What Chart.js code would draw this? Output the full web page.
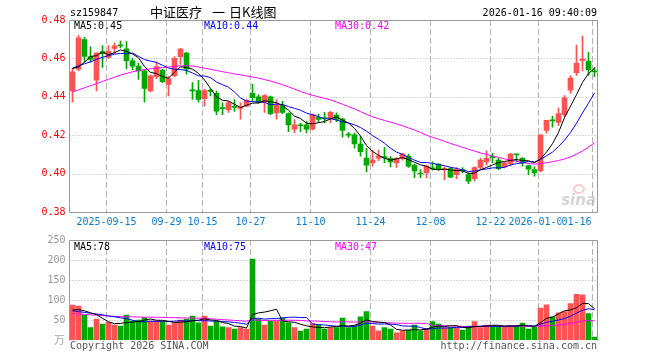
<!DOCTYPE html>
<html>
<head>
<meta charset="utf-8">
<script src="https://cdn.jsdelivr.net/npm/chart.js@4.4.1/dist/chart.umd.min.js"></script>
<style>
  body { margin: 0; background: #fff; }
  #wrap { position: relative; width: 660px; height: 360px; }
  canvas { position: absolute; left: 0; top: 0; }
</style>
</head>
<body>
<div id="wrap">
  <canvas id="kline" width="660" height="360"></canvas>
  <canvas id="vol" width="660" height="360"></canvas>
</div>
<script>
// 159847 daily, 2025-09-05 .. 2026-01-16
const dates = [
  "2025-09-05", "2025-09-08", "2025-09-09", "2025-09-10", "2025-09-11", "2025-09-12",
  "2025-09-15", "2025-09-16", "2025-09-17", "2025-09-18", "2025-09-19",
  "2025-09-22", "2025-09-23", "2025-09-24", "2025-09-25", "2025-09-26",
  "2025-09-29", "2025-09-30", "2025-10-09", "2025-10-10",
  "2025-10-13", "2025-10-14", "2025-10-15", "2025-10-16", "2025-10-17",
  "2025-10-20", "2025-10-21", "2025-10-22", "2025-10-23", "2025-10-24",
  "2025-10-27", "2025-10-28", "2025-10-29", "2025-10-30", "2025-10-31",
  "2025-11-03", "2025-11-04", "2025-11-05", "2025-11-06", "2025-11-07",
  "2025-11-10", "2025-11-11", "2025-11-12", "2025-11-13", "2025-11-14",
  "2025-11-17", "2025-11-18", "2025-11-19", "2025-11-20", "2025-11-21",
  "2025-11-24", "2025-11-25", "2025-11-26", "2025-11-27", "2025-11-28",
  "2025-12-01", "2025-12-02", "2025-12-03", "2025-12-04", "2025-12-05",
  "2025-12-08", "2025-12-09", "2025-12-10", "2025-12-11", "2025-12-12",
  "2025-12-15", "2025-12-16", "2025-12-17", "2025-12-18", "2025-12-19",
  "2025-12-22", "2025-12-23", "2025-12-24", "2025-12-25", "2025-12-26",
  "2025-12-29", "2025-12-30", "2025-12-31",
  "2026-01-05", "2026-01-06", "2026-01-07", "2026-01-08", "2026-01-09",
  "2026-01-12", "2026-01-13", "2026-01-14", "2026-01-15", "2026-01-16"
];

const open = [
  0.4430, 0.4544, 0.4698, 0.4610, 0.4486, 0.4635, 0.4605, 0.4652, 0.4670, 0.4650,
  0.4587, 0.4560, 0.4535, 0.4430, 0.4505, 0.4539, 0.4465, 0.4510, 0.4609, 0.4628,
  0.4436, 0.4433, 0.4390, 0.4435, 0.4418, 0.4342, 0.4333, 0.4350, 0.4340, 0.4351,
  0.4418, 0.4400, 0.4372, 0.4400, 0.4316, 0.4354, 0.4312, 0.4232, 0.4253, 0.4254,
  0.4232, 0.4293, 0.4290, 0.4289, 0.4305, 0.4284, 0.4204, 0.4202, 0.4154, 0.4081,
  0.4056, 0.4081, 0.4088, 0.4079, 0.4056, 0.4079, 0.4091, 0.4044, 0.4002, 0.4004,
  0.4028, 0.4049, 0.4021, 0.4026, 0.3995, 0.4021, 0.3995, 0.3974, 0.4032, 0.4061,
  0.4086, 0.4070, 0.4035, 0.4053, 0.4100, 0.4079, 0.4042, 0.4021, 0.4014, 0.4225,
  0.4279, 0.4267, 0.4307, 0.4435, 0.4526, 0.4588, 0.4586, 0.4535
];
const high = [
  0.4550, 0.4720, 0.4710, 0.4660, 0.4630, 0.4667, 0.4667, 0.4680, 0.4690, 0.4688,
  0.4600, 0.4575, 0.4540, 0.4515, 0.4582, 0.4545, 0.4505, 0.4610, 0.4653, 0.4632,
  0.4474, 0.4486, 0.4439, 0.4442, 0.4430, 0.4368, 0.4377, 0.4386, 0.4368, 0.4386,
  0.4465, 0.4412, 0.4412, 0.4404, 0.4386, 0.4377, 0.4316, 0.4281, 0.4263, 0.4272,
  0.4310, 0.4310, 0.4319, 0.4324, 0.4316, 0.4289, 0.4215, 0.4211, 0.4193, 0.4132,
  0.4123, 0.4123, 0.4137, 0.4088, 0.4084, 0.4105, 0.4100, 0.4049, 0.4021, 0.4044,
  0.4061, 0.4051, 0.4035, 0.4032, 0.4032, 0.4032, 0.4004, 0.4035, 0.4079, 0.4118,
  0.4105, 0.4079, 0.4061, 0.4105, 0.4102, 0.4084, 0.4042, 0.4035, 0.4202, 0.4277,
  0.4298, 0.4342, 0.4407, 0.4509, 0.4670, 0.4716, 0.4632, 0.4553
];
const low = [
  0.4372, 0.4535, 0.4580, 0.4580, 0.4430, 0.4553, 0.4600, 0.4625, 0.4655, 0.4545,
  0.4540, 0.4490, 0.4372, 0.4425, 0.4495, 0.4474, 0.4404, 0.4505, 0.4570, 0.4518,
  0.4386, 0.4372, 0.4351, 0.4404, 0.4307, 0.4307, 0.4319, 0.4324, 0.4284, 0.4347,
  0.4377, 0.4365, 0.4319, 0.4307, 0.4284, 0.4312, 0.4219, 0.4212, 0.4219, 0.4212,
  0.4228, 0.4265, 0.4265, 0.4265, 0.4270, 0.4190, 0.4188, 0.4132, 0.4091, 0.4009,
  0.4039, 0.4067, 0.4056, 0.4035, 0.4032, 0.4070, 0.4032, 0.3979, 0.3979, 0.3979,
  0.4018, 0.4018, 0.3968, 0.3979, 0.3974, 0.4004, 0.3947, 0.3961, 0.4026, 0.4044,
  0.4056, 0.4021, 0.4030, 0.4040, 0.4061, 0.4040, 0.3996, 0.3986, 0.4009, 0.4211,
  0.4242, 0.4249, 0.4295, 0.4418, 0.4512, 0.4535, 0.4512, 0.4505
];
const close = [
  0.4530, 0.4707, 0.4610, 0.4595, 0.4628, 0.4625, 0.4637, 0.4665, 0.4665, 0.4588,
  0.4560, 0.4535, 0.4444, 0.4509, 0.4558, 0.4479, 0.4495, 0.4600, 0.4649, 0.4544,
  0.4430, 0.4386, 0.4433, 0.4428, 0.4325, 0.4338, 0.4368, 0.4345, 0.4345, 0.4382,
  0.4395, 0.4372, 0.4407, 0.4312, 0.4358, 0.4319, 0.4254, 0.4254, 0.4249, 0.4232,
  0.4307, 0.4282, 0.4287, 0.4319, 0.4282, 0.4225, 0.4200, 0.4154, 0.4114, 0.4044,
  0.4070, 0.4091, 0.4082, 0.4061, 0.4079, 0.4102, 0.4039, 0.4014, 0.3998, 0.4039,
  0.4025, 0.4026, 0.4025, 0.3982, 0.4021, 0.4016, 0.3961, 0.4032, 0.4070, 0.4079,
  0.4083, 0.4026, 0.4056, 0.4102, 0.4098, 0.4056, 0.4023, 0.4004, 0.4202, 0.4277,
  0.4275, 0.4312, 0.4395, 0.4497, 0.4575, 0.4596, 0.4540, 0.4530
];

const ma5 = [
  0.4548, 0.4555, 0.4580, 0.4610, 0.4614, 0.4633, 0.4619, 0.4630, 0.4644, 0.4636,
  0.4623, 0.4603, 0.4558, 0.4527, 0.4521, 0.4505, 0.4497, 0.4528, 0.4556, 0.4553,
  0.4544, 0.4522, 0.4488, 0.4444, 0.4400, 0.4382, 0.4378, 0.4361, 0.4344, 0.4356,
  0.4367, 0.4368, 0.4380, 0.4374, 0.4369, 0.4354, 0.4330, 0.4299, 0.4287, 0.4262,
  0.4259, 0.4265, 0.4271, 0.4285, 0.4295, 0.4279, 0.4263, 0.4236, 0.4195, 0.4147,
  0.4116, 0.4095, 0.4080, 0.4070, 0.4077, 0.4083, 0.4073, 0.4059, 0.4046, 0.4038,
  0.4023, 0.4020, 0.4023, 0.4019, 0.4016, 0.4014, 0.4001, 0.4002, 0.4020, 0.4032,
  0.4045, 0.4058, 0.4063, 0.4069, 0.4073, 0.4068, 0.4067, 0.4057, 0.4077, 0.4112,
  0.4156, 0.4214, 0.4292, 0.4351, 0.4411, 0.4475, 0.4521, 0.4548
];
const ma10 = [
  0.4548, 0.4562, 0.4572, 0.4582, 0.4595, 0.4605, 0.4615, 0.4622, 0.4626, 0.4625,
  0.4628, 0.4611, 0.4594, 0.4586, 0.4579, 0.4564, 0.4550, 0.4543, 0.4542, 0.4537,
  0.4524, 0.4509, 0.4508, 0.4500, 0.4477, 0.4463, 0.4450, 0.4425, 0.4394, 0.4378,
  0.4375, 0.4373, 0.4371, 0.4359, 0.4362, 0.4360, 0.4349, 0.4340, 0.4330, 0.4315,
  0.4306, 0.4297, 0.4285, 0.4286, 0.4279, 0.4269, 0.4264, 0.4254, 0.4240, 0.4221,
  0.4198, 0.4179, 0.4158, 0.4132, 0.4112, 0.4100, 0.4084, 0.4070, 0.4058, 0.4058,
  0.4053, 0.4047, 0.4041, 0.4033, 0.4027, 0.4019, 0.4011, 0.4013, 0.4020, 0.4024,
  0.4030, 0.4030, 0.4033, 0.4045, 0.4052, 0.4056, 0.4063, 0.4060, 0.4073, 0.4093,
  0.4112, 0.4141, 0.4174, 0.4214, 0.4262, 0.4316, 0.4367, 0.4420
];
const ma30 = [
  0.4425, 0.4436, 0.4447, 0.4458, 0.4469, 0.4480, 0.4491, 0.4502, 0.4513, 0.4522,
  0.4530, 0.4537, 0.4542, 0.4546, 0.4549, 0.4552, 0.4555, 0.4558, 0.4561, 0.4562,
  0.4560, 0.4555, 0.4549, 0.4543, 0.4537, 0.4531, 0.4525, 0.4519, 0.4514, 0.4509,
  0.4503, 0.4497, 0.4490, 0.4482, 0.4473, 0.4463, 0.4452, 0.4440, 0.4428, 0.4417,
  0.4408, 0.4400, 0.4392, 0.4384, 0.4373, 0.4361, 0.4349, 0.4337, 0.4323, 0.4308,
  0.4296, 0.4286, 0.4277, 0.4268, 0.4259, 0.4249, 0.4238, 0.4227, 0.4214, 0.4200,
  0.4189, 0.4179, 0.4168, 0.4157, 0.4147, 0.4137, 0.4127, 0.4117, 0.4108, 0.4100,
  0.4092, 0.4084, 0.4077, 0.4070, 0.4064, 0.4058, 0.4053, 0.4049, 0.4052, 0.4057,
  0.4062, 0.4068, 0.4076, 0.4087, 0.4101, 0.4118, 0.4138, 0.4160
];

// volume, in 10k
const volume = [
  87, 85, 62, 31, 52, 40, 44, 37, 35, 62,
  47, 50, 56, 47, 47, 46, 37, 43, 50, 52,
  60, 43, 60, 35, 47, 33, 31, 27, 31, 27,
  202, 52, 37, 47, 47, 54, 43, 31, 22, 27,
  41, 37, 27, 31, 31, 55, 31, 36, 58, 71,
  35, 23, 31, 27, 18, 23, 25, 37, 23, 29,
  46, 40, 31, 31, 31, 25, 35, 46, 31, 37,
  35, 35, 35, 35, 35, 42, 27, 33, 80, 88,
  58, 68, 71, 91, 114, 113, 66, 7
];
const volMa5 = [
  75, 76, 73, 68, 63.4, 54, 45.8, 40.8, 41.6, 43.6,
  45, 46.2, 50, 52.4, 49.4, 49.2, 46.6, 44, 44.6, 45.6,
  48.4, 49.6, 53, 50, 49, 43.6, 41.2, 34.6, 33.8, 29.8,
  63.6, 67.8, 69.8, 73, 77, 47.4, 45.6, 44.4, 39.4, 35.4,
  32.8, 31.6, 30.8, 32.6, 33.4, 36.2, 35, 36.8, 42.2, 50.2,
  46.2, 44.6, 43.6, 37.4, 26.8, 24.4, 24.8, 26, 25.2, 27.4,
  32, 35, 33.8, 35.4, 35.8, 31.6, 30.6, 33.6, 33.6, 34.8,
  36.8, 36.8, 34.6, 35.4, 35, 36.4, 34.8, 34.4, 43.4, 54,
  57.2, 65.4, 73, 75.2, 80.4, 91.4, 91, 78.2
];
const volMa10 = [
  73, 71, 69, 67, 65, 63, 60, 58, 55.5, 53.5,
  49.5, 46, 45.4, 47, 46.5, 47.1, 46.4, 47, 48.5, 47.5,
  48.8, 48.1, 48.5, 47.3, 47.3, 46, 45.4, 43.8, 41.9, 39.4,
  53.6, 54.5, 52.2, 53.4, 53.4, 55.5, 56.7, 57.1, 56.2, 56.2,
  40.1, 38.6, 37.6, 36, 34.4, 34.5, 33.3, 33.8, 37.4, 41.8,
  41.2, 39.8, 40.2, 39.8, 38.5, 35.3, 34.7, 34.8, 31.3, 27.1,
  28.2, 29.9, 29.9, 30.3, 31.6, 31.8, 32.8, 33.7, 34.5, 35.3,
  34.2, 33.7, 34.1, 34.5, 34.9, 36.6, 35.8, 34.5, 39.4, 44.5,
  46.8, 50.1, 53.7, 59.3, 67.2, 74.3, 78.2, 75.6
];
const volMa30 = [
  66, 65, 64, 63, 62, 61, 60, 59, 58.5, 58,
  58, 57.5, 57, 57, 57, 56.5, 56, 56, 55.5, 55,
  55, 54.5, 54, 53, 52, 51, 50, 49, 48, 46.8,
  50.6, 49.5, 48.7, 49.2, 49.1, 49.5, 49.5, 49.3, 48.9, 47.7,
  47.5, 47.1, 46.1, 45.6, 45, 45.3, 45.1, 44.9, 45.2, 45.8,
  45, 44.3, 43.3, 43.1, 42.1, 41.8, 41.6, 41.9, 41.6, 41.7,
  36.5, 36.1, 35.9, 35.4, 34.8, 33.9, 33.6, 34.1, 34.4, 34.7,
  34.5, 34.5, 34.7, 34.9, 35, 34.6, 34.4, 34.3, 35.1, 35.6,
  36.4, 37.9, 39.2, 41.4, 44.6, 47.6, 48.9, 47.9
];

const tickDates = ["2025-09-15", "2025-09-29", "2025-10-15", "2025-10-27", "2025-11-10",
  "2025-11-24", "2025-12-08", "2025-12-22", "2026-01-05", "2026-01-16"];
const tickLabels = ["2025-09-15", "09-29", "10-15", "10-27", "11-10",
  "11-24", "12-08", "12-22", "2026-01-05", "01-16"];

const RED = "#ff5252";
const GREEN = "#00a800";
const MONO = "10px 'DejaVu Sans Mono'";
const CJK = "13px 'Noto Sans CJK SC'";
const colors = close.map((c, i) => c >= open[i] ? RED : GREEN);

function text(ctx, s, x, y, color, align, font) {
  ctx.font = font || MONO;
  ctx.fillStyle = color;
  ctx.textAlign = align || "left";
  ctx.textBaseline = "middle";
  ctx.fillText(s, x, y);
}

function grid(chart) {
  const { ctx, chartArea: a, scales: { x, y } } = chart;
  ctx.save();
  ctx.strokeStyle = "#b4b4b4";
  ctx.lineWidth = 1;
  ctx.setLineDash([1, 2]);
  y.ticks.forEach(t => {
    const py = Math.round(y.getPixelForValue(t.value)) + 0.5;
    if (py < a.top + 2 || py > a.bottom - 2) return;
    ctx.beginPath();
    ctx.moveTo(a.left, py);
    ctx.lineTo(a.right, py);
    ctx.stroke();
  });
  ctx.setLineDash([6, 3]);
  tickDates.forEach(d => {
    const px = Math.floor(x.getPixelForValue(dates.indexOf(d)) - 2.5) + 0.5;
    ctx.beginPath();
    ctx.moveTo(px, a.top);
    ctx.lineTo(px, a.bottom);
    ctx.stroke();
  });
  ctx.restore();
}

function frame(ctx, a, bottom) {
  ctx.save();
  ctx.strokeStyle = "#999";
  ctx.lineWidth = 1;
  ctx.beginPath();
  ctx.moveTo(a.left, a.bottom + 0.5);
  ctx.lineTo(a.left, a.top + 0.5);
  ctx.lineTo(a.right, a.top + 0.5);
  ctx.lineTo(a.right, a.bottom + 0.5);
  if (bottom) ctx.lineTo(a.left, a.bottom + 0.5);
  ctx.stroke();
  ctx.restore();
}

const kPanel = {
  id: "kPanel",
  beforeDatasetsDraw(chart) { grid(chart); },
  afterDraw(chart) {
    const { ctx, chartArea: a, scales: { x } } = chart;
    frame(ctx, a, true);
    text(ctx, "sz159847", 70, 13, "#000");
    // title: 中证医疗 一 日K线图
    text(ctx, "中证医疗", 150, 12, "#000", "left", CJK);
    text(ctx, "一", 212, 12, "#000", "left", CJK);
    text(ctx, "日K线图", 229, 12, "#000", "left", CJK);
    text(ctx, "2026-01-16 09:40:09", 597, 13, "#000", "right");
    text(ctx, "MA5:" + ma5[ma5.length - 1].toFixed(2), 74, 26, "#000");
    text(ctx, "MA10:" + ma10[ma10.length - 1].toFixed(2), 204, 26, "#0000ff");
    text(ctx, "MA30:" + ma30[ma30.length - 1].toFixed(2), 335, 26, "#ff00ff");
    // x labels
    tickDates.forEach((d, k) => {
      const px = x.getPixelForValue(dates.indexOf(d)) - 2;
      if (k === tickDates.length - 1) {
        ctx.font = MONO;
        const w = ctx.measureText(tickLabels[k]).width;
        ctx.fillStyle = "#fff";
        ctx.fillRect(a.right - 6 - w, a.bottom + 4, w, 12);
        text(ctx, tickLabels[k], a.right - 6, a.bottom + 10, "#0a7cd0", "right");
      } else {
        text(ctx, tickLabels[k], px, a.bottom + 10, "#0a7cd0", "center");
      }
    });
    // watermark
    ctx.save();
    ctx.globalAlpha = 0.55;
    ctx.strokeStyle = "#f0a0a0";
    ctx.lineWidth = 2;
    ctx.beginPath();
    ctx.ellipse(579, 189, 5, 4, 0, 0, Math.PI * 2);
    ctx.stroke();
    text(ctx, "sina", 596, 201, "#b0b0b0", "right", "italic bold 15px 'DejaVu Sans'");
    ctx.restore();
  }
};

const vPanel = {
  id: "vPanel",
  beforeDatasetsDraw(chart) { grid(chart); },
  afterDraw(chart) {
    const { ctx, chartArea: a } = chart;
    frame(ctx, a, false);
    text(ctx, "MA5:78", 74, 247, "#000");
    text(ctx, "MA10:75", 204, 247, "#0000ff");
    text(ctx, "MA30:47", 335, 247, "#ff00ff");
    text(ctx, "万", 65, 340, "#aaa", "right", "11px 'Noto Sans CJK SC'");
    text(ctx, "Copyright 2026 SINA.COM", 70, 346, "#555");
    text(ctx, "http://finance.sina.com.cn", 597, 346, "#555", "right");
  }
};

function line(data, color, order) {
  return { type: "line", data, borderColor: color, borderWidth: 1, pointRadius: 0,
    tension: 0, fill: false, order };
}

function yAxis(extra) {
  return Object.assign({
    afterFit(s) { s.width = 69.5; },
    grid: { display: false, drawTicks: false },
    border: { display: false }
  }, extra);
}

new Chart(document.getElementById("kline"), {
  data: {
    labels: dates,
    datasets: [
      line(ma5, "#000", 0),
      line(ma10, "#0000ff", 1),
      line(ma30, "#ff00ff", 2),
      { type: "bar", data: open.map((o, i) => [o, close[i]]), backgroundColor: colors,
        barThickness: 5, minBarLength: 1, grouped: false, order: 3 },
      { type: "bar", data: low.map((l, i) => [l, high[i]]), backgroundColor: colors,
        barThickness: 1, grouped: false, order: 4 }
    ]
  },
  options: {
    responsive: false,
    animation: false,
    events: [],
    layout: { padding: { left: 0, right: 62.5, top: 20, bottom: 148 } },
    plugins: { legend: { display: false }, tooltip: { enabled: false } },
    scales: {
      x: { type: "category", offset: true, display: false },
      y: yAxis({
        min: 0.38, max: 0.48,
        ticks: { stepSize: 0.02, padding: 4, color: "#f00",
          font: { family: "DejaVu Sans Mono", size: 10 },
          callback: v => v.toFixed(2) }
      })
    }
  },
  plugins: [kPanel]
});

new Chart(document.getElementById("vol"), {
  data: {
    labels: dates,
    datasets: [
      line(volMa5, "#000", 0),
      line(volMa10, "#0000ff", 1),
      line(volMa30, "#ff00ff", 2),
      { type: "bar", data: volume, backgroundColor: colors, barThickness: 5,
        grouped: false, order: 3 }
    ]
  },
  options: {
    responsive: false,
    animation: false,
    events: [],
    layout: { padding: { left: 0, right: 62.5, top: 240, bottom: 20 } },
    plugins: { legend: { display: false }, tooltip: { enabled: false } },
    scales: {
      x: { type: "category", offset: true, display: false },
      y: yAxis({
        min: 0, max: 250,
        ticks: { stepSize: 50, padding: 4, color: "#999",
          font: { family: "DejaVu Sans Mono", size: 10 },
          callback: v => v === 0 ? "" : String(v) }
      })
    }
  },
  plugins: [vPanel]
});
</script>
</body>
</html>
